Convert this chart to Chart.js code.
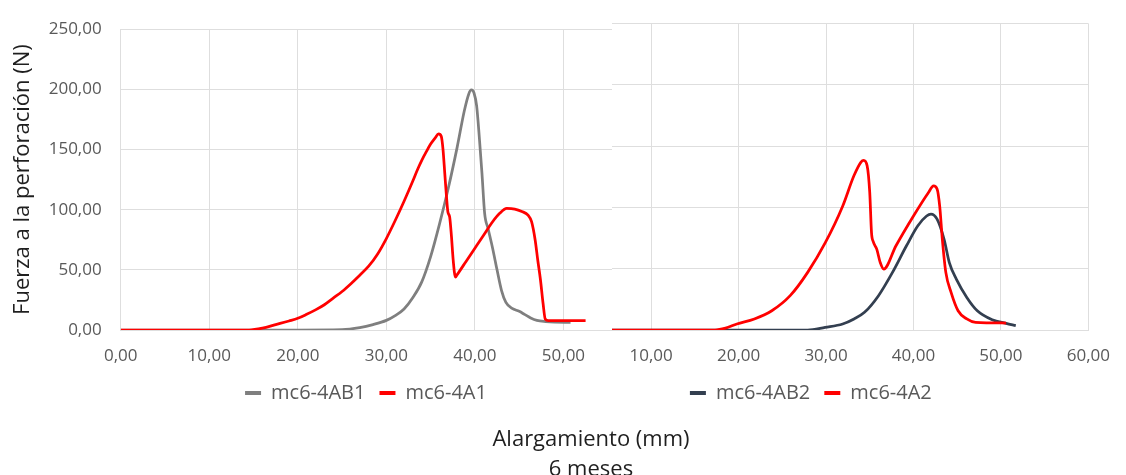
<!DOCTYPE html>
<html>
<head>
<meta charset="utf-8">
<script src="https://cdn.jsdelivr.net/npm/chart.js@4.4.0/dist/chart.umd.min.js"></script>
<style>
  body { margin: 0; background: #fff; }
  #wrap { position: relative; width: 1126px; height: 475px; overflow: hidden; font-family: 'Open Sans', sans-serif; }
  #right { position: absolute; left: 496px; top: 0; }
  #leftBox { position: absolute; left: 0; top: 0; width: 612px; height: 475px; overflow: hidden; background: #fff; }
  #leftBox canvas { position: absolute; left: 0; top: 0; }
  .xt { position: absolute; left: 391px; width: 400px; text-align: center; font-size: 22px; line-height: 30px; color: #1f1f1f; }
</style>
</head>
<body>
<div id="wrap">
  <canvas id="right" width="630" height="475"></canvas>
  <div id="leftBox"><canvas id="left" width="732" height="475"></canvas></div>
  <div class="xt" style="top:422px">Alargamiento (mm)</div>
  <div class="xt" style="top:452px">6 meses</div>
</div>
<script>
// curva mc6-4AB1
const ab1X = [0, 10, 20, 25, 27, 28.5, 30, 31, 32, 33, 34, 35, 36, 37, 38, 38.8, 39.3, 39.6, 39.9, 40.2, 40.5, 40.8, 41.1, 41.5, 42, 42.5, 43, 43.5, 44.2, 45, 45.6, 46.3, 47, 48, 49, 50.8];
const ab1Y = [0, 0, 0, 0.3, 2, 4.5, 8, 12, 17.5, 27, 40, 61, 88, 118, 152, 182, 196, 199.5, 197, 186, 160, 130, 97, 84, 68, 50, 33, 23, 18, 15.5, 13, 10, 8, 7, 6.5, 6.3];

// curva mc6-4A1
const a1X = [0, 10, 14.5, 16, 17.5, 19, 20, 21, 22, 23, 24, 25, 26, 27, 28, 29, 30, 31, 32, 33, 33.5, 34, 34.5, 35, 35.5, 35.9, 36.2, 36.4, 36.6, 36.8, 36.95, 37.15, 37.35, 37.55, 37.8, 38, 39, 40, 41, 42, 42.8, 43.6, 44.5, 45.3, 46, 46.4, 46.8, 47.1, 47.4, 47.7, 47.95, 48.3, 52.5];
const a1Y = [0, 0, 0, 1.5, 4.5, 7.5, 9.7, 13, 16.7, 21, 26.5, 32, 38.5, 45.5, 53, 63, 76, 91, 107, 124, 133, 141, 148, 154.5, 159.5, 163, 161, 150, 130, 110, 98, 94, 78, 58, 44, 46, 57, 68, 79, 90, 97, 101, 100.5, 98.5, 95.5, 90, 75, 58, 42, 22, 9, 7.8, 7.8];

// curva mc6-4AB2
const ab2X = [0, 10, 20, 27.9, 29.9, 31.9, 33.2, 34.4, 36, 37.6, 39.2, 40.5, 41.5, 42, 42.7, 43.5, 44.1, 44.9, 46.1, 47.3, 49, 50.6, 51.7];
const ab2Y = [0, 0, 0, 0, 2.2, 4.9, 9, 14.4, 28, 47, 68.7, 85, 93, 94.5, 90.4, 74, 55, 41.5, 26.6, 15.7, 8.4, 5.4, 3.5];

// curva mc6-4A2
const a2X = [0, 10, 17.3, 18.5, 19.8, 21.8, 23.8, 25.9, 27.9, 29.9, 31.9, 33.2, 34, 34.3, 34.7, 35, 35.2, 35.4, 35.8, 36.2, 36.6, 38, 40, 41.7, 42.3, 42.7, 43, 43.3, 43.7, 44.3, 45.1, 46.1, 47.1, 50.6];
const a2Y = [0, 0, 0, 1.5, 4.9, 9, 15.7, 28, 47, 71, 101, 126, 137, 138.4, 134, 112, 79.5, 72, 66, 55, 49.7, 68.7, 93, 112, 117.5, 115, 101, 74, 47, 30.7, 15.7, 9, 6.2, 5.7];

const xTicksMax = 60;
const yTicksMax = 250;

const gridColor = '#dedede';
const tickColor = '#595959';
const titleColor = '#1f1f1f';

Chart.defaults.font.family = "'Open Sans', sans-serif";

const fmt = v => v.toFixed(2).replace('.', ',');
const pts = (xs, ys) => xs.map((x, i) => ({ x: x, y: ys[i] }));

function serie(label, xs, ys, color, order) {
  return {
    label: label,
    data: pts(xs, ys),
    borderColor: color,
    backgroundColor: color,
    borderWidth: 2.75,
    pointRadius: 0,
    fill: false,
    cubicInterpolationMode: 'monotone',
    order: order
  };
}

// leyenda: trazo corto de color, orden original de las series
const legendLabels = chart => Chart.defaults.plugins.legend.labels.generateLabels(chart)
  .map(l => Object.assign(l, { fillStyle: l.strokeStyle, lineWidth: 0 }))
  .sort((a, b) => a.datasetIndex - b.datasetIndex);

// corre la leyenda dx píxeles en horizontal
const legendShift = {
  id: 'legendShift',
  afterLayout(chart, args, opts) {
    const lg = chart.legend;
    if (lg && opts.dx) { lg.left += opts.dx; lg.right += opts.dx; }
  }
};

// padding: margen del lienzo; yWidth: ancho reservado al eje y
function opciones(padding, yWidth, showY, dx) {
  return {
    responsive: false,
    animation: false,
    layout: { padding: padding },
    plugins: {
      tooltip: { enabled: false },
      legendShift: { dx: dx },
      legend: {
        position: 'bottom',
        labels: {
          boxWidth: 16, boxHeight: 4, padding: 14,
          color: tickColor, font: { size: 20 },
          generateLabels: legendLabels
        }
      }
    },
    scales: {
      x: {
        type: 'linear', min: 0, max: xTicksMax,
        grid: { color: gridColor, drawTicks: false },
        border: { color: gridColor },
        ticks: { stepSize: 10, padding: 16, color: tickColor, font: { size: 17 }, callback: fmt, maxRotation: 0 },
        afterFit: s => { s.height = 39; }
      },
      y: {
        min: 0, max: yTicksMax,
        grid: { color: gridColor, drawTicks: false },
        border: { color: gridColor },
        ticks: { display: showY, stepSize: 50, padding: 19, color: tickColor, font: { size: 17 }, callback: fmt },
        title: {
          display: showY, text: 'Fuerza a la perforación (N)',
          color: titleColor, font: { size: 22 }, padding: { top: 10, bottom: 0 }
        },
        afterFit: s => { s.width = yWidth; }
      }
    }
  };
}

new Chart(document.getElementById('right'), {
  type: 'line',
  data: {
    datasets: [
      serie('mc6-4AB2', ab2X, ab2Y, '#333f50', 2),
      serie('mc6-4A2', a2X, a2Y, '#ff0000', 1)
    ]
  },
  options: opciones({ left: 27.7, top: 23.5, right: 28, bottom: 62 }, 40, false, 0),
  plugins: [legendShift]
});

new Chart(document.getElementById('left'), {
  type: 'line',
  data: {
    datasets: [
      serie('mc6-4AB1', ab1X, ab1Y, '#7f7f7f', 2),
      serie('mc6-4A1', a1X, a1Y, '#ff0000', 1)
    ]
  },
  options: opciones({ left: 0, top: 23.5, right: 80, bottom: 62 }, 120.7, true, 40),
  plugins: [legendShift]
});
</script>
</body>
</html>
